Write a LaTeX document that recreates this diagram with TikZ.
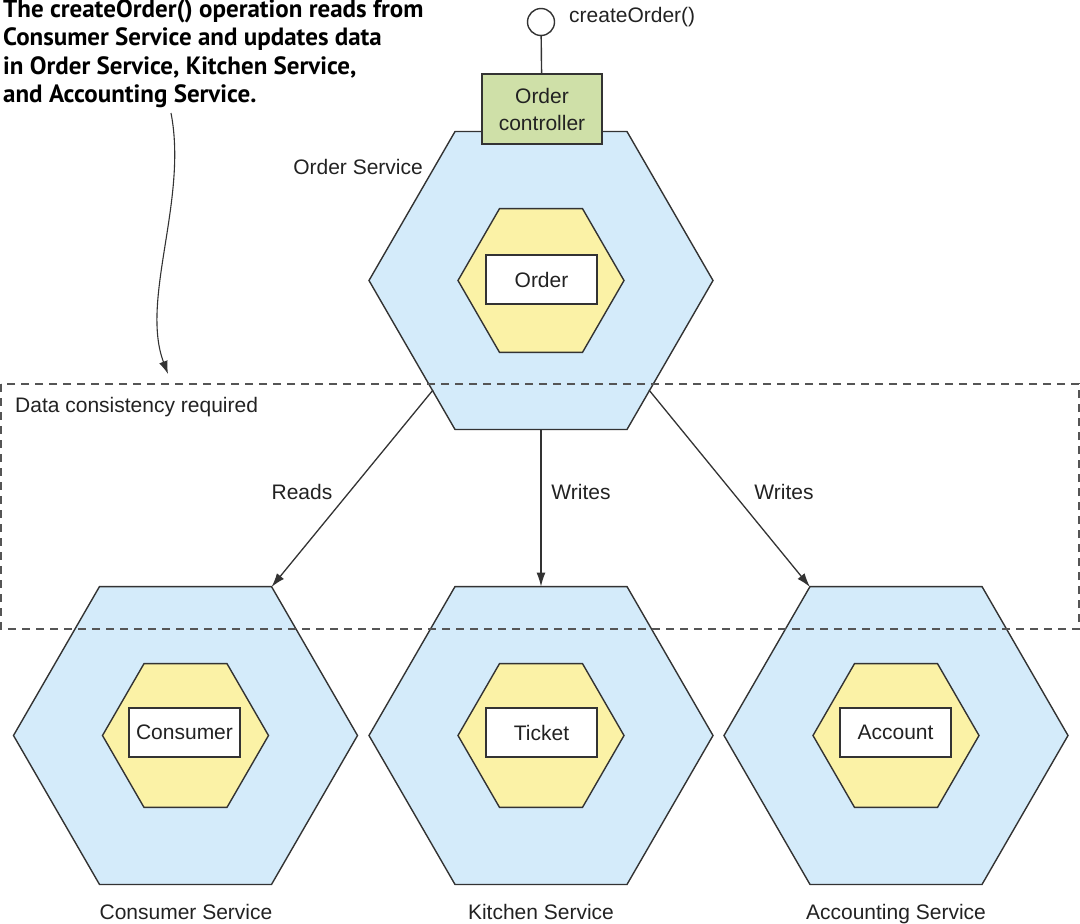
\documentclass[tikz,border=0pt]{standalone}
\usepackage{fontspec}
\setmainfont{Liberation Sans}
\newfontfamily\annfont{PT Sans}
\usetikzlibrary{shapes.geometric,arrows.meta}
\definecolor{svcblue}{RGB}{212,235,250}
\definecolor{aggyellow}{RGB}{251,242,166}
\definecolor{ctrlgreen}{RGB}{207,224,168}
\definecolor{linegray}{RGB}{51,51,51}
\definecolor{dashgray}{RGB}{85,85,85}
\definecolor{txt}{RGB}{34,34,34}
\begin{document}
\begin{tikzpicture}[x=1pt,y=-1pt,
  every node/.style={font=\fontsize{21}{24}\selectfont, text=txt},
  svc/.style={regular polygon, regular polygon sides=6, minimum size=344pt, inner sep=0pt, outer sep=0pt, draw=linegray, line width=1.4pt, fill=svcblue},
  agg/.style={regular polygon, regular polygon sides=6, minimum size=166pt, inner sep=0pt, outer sep=0pt, draw=linegray, line width=1.4pt, fill=aggyellow},
  ent/.style={draw=linegray, fill=white, line width=1.4pt, minimum width=111pt, minimum height=49pt, inner sep=0pt, outer sep=0pt},
  conn/.style={draw=linegray, line width=1.3pt, -{Latex[length=14pt,width=9pt]}},
  lbl/.style={inner sep=0pt},
]
\useasboundingbox (0,0) rectangle (1080,924);

% services
\node[svc] (os) at (541,280.5) {};
\node[agg] (oa) at (541,280.5) {};
\node[ent] (oe) at (541.5,279.5) {Order};

\node[svc] (cs) at (185.5,735.5) {};
\node[agg] (ca) at (185.5,735.5) {};
\node[ent] (ce) at (184.5,732.5) {Consumer};

\node[svc] (ks) at (541,735.5) {};
\node[agg] (ka) at (541,735.5) {};
\node[ent] (ke) at (541.5,732.5) {Ticket};

\node[svc] (as) at (896,735.5) {};
\node[agg] (aa) at (896,735.5) {};
\node[ent] (ae) at (895.5,732.5) {Account};

% controller
\node[draw=linegray, fill=ctrlgreen, line width=1.4pt, minimum width=120pt, minimum height=70pt, inner sep=0pt, align=center, font=\fontsize{21}{27}\selectfont] (ctrl) at (542,109) {Order\\controller};
\node[circle, draw=linegray, fill=white, line width=1.4pt, minimum size=27pt, inner sep=0pt] (api) at (541,22) {};
\draw[linegray, line width=1.4pt] (api) -- (ctrl);
\node[lbl, anchor=west] (apilbl) at (569,17) {createOrder()};

% labels
\node[lbl, anchor=east] (osl) at (423,167) {Order Service};
\node[lbl, anchor=base] (csl) at (186,919) {Consumer Service};
\node[lbl, anchor=base] (ksl) at (541,919) {Kitchen Service};
\node[lbl, anchor=base] (asl) at (896,919) {Accounting Service};

% consistency boundary
\draw[dashgray, line width=1.5pt, dash pattern=on 8pt off 6pt] (1,384) rectangle (1079,629);
\node[lbl, anchor=west] (dcr) at (15,407) {Data consistency required};

% connectors
\coordinate (rs) at ([shift={(-108,109.5)}]os.center);
\coordinate (re) at ([shift={(86,-148.5)}]cs.center);
\coordinate (ws) at ([shift={(108,109.5)}]os.center);
\coordinate (we) at ([shift={(-86,-148.5)}]as.center);
\draw[conn] (rs) -- (re);
\draw[conn] (os.south) -- (ks.north);
\draw[conn] (ws) -- (we);
\node[lbl] (rl) at (302,492) {Reads};
\node[lbl] (wl1) at (581,492) {Writes};
\node[lbl] (wl2) at (784,492) {Writes};

% annotation
\node[lbl, anchor=north west, align=left, font=\annfont\bfseries\fontsize{25}{28.5}\selectfont, text=black] (ann) at (3,-1)
  {The createOrder() operation reads from\\Consumer Service and updates data\\in Order Service, Kitchen Service,\\and Accounting Service.};
\coordinate (a1) at (171,113);
\coordinate (a2) at (168,374);
\draw[draw=linegray, line width=1.1pt, -{Latex[length=13pt,width=9pt]}] (a1) .. controls (188,200) and (140,300) .. (a2);
\end{tikzpicture}
\end{document}
